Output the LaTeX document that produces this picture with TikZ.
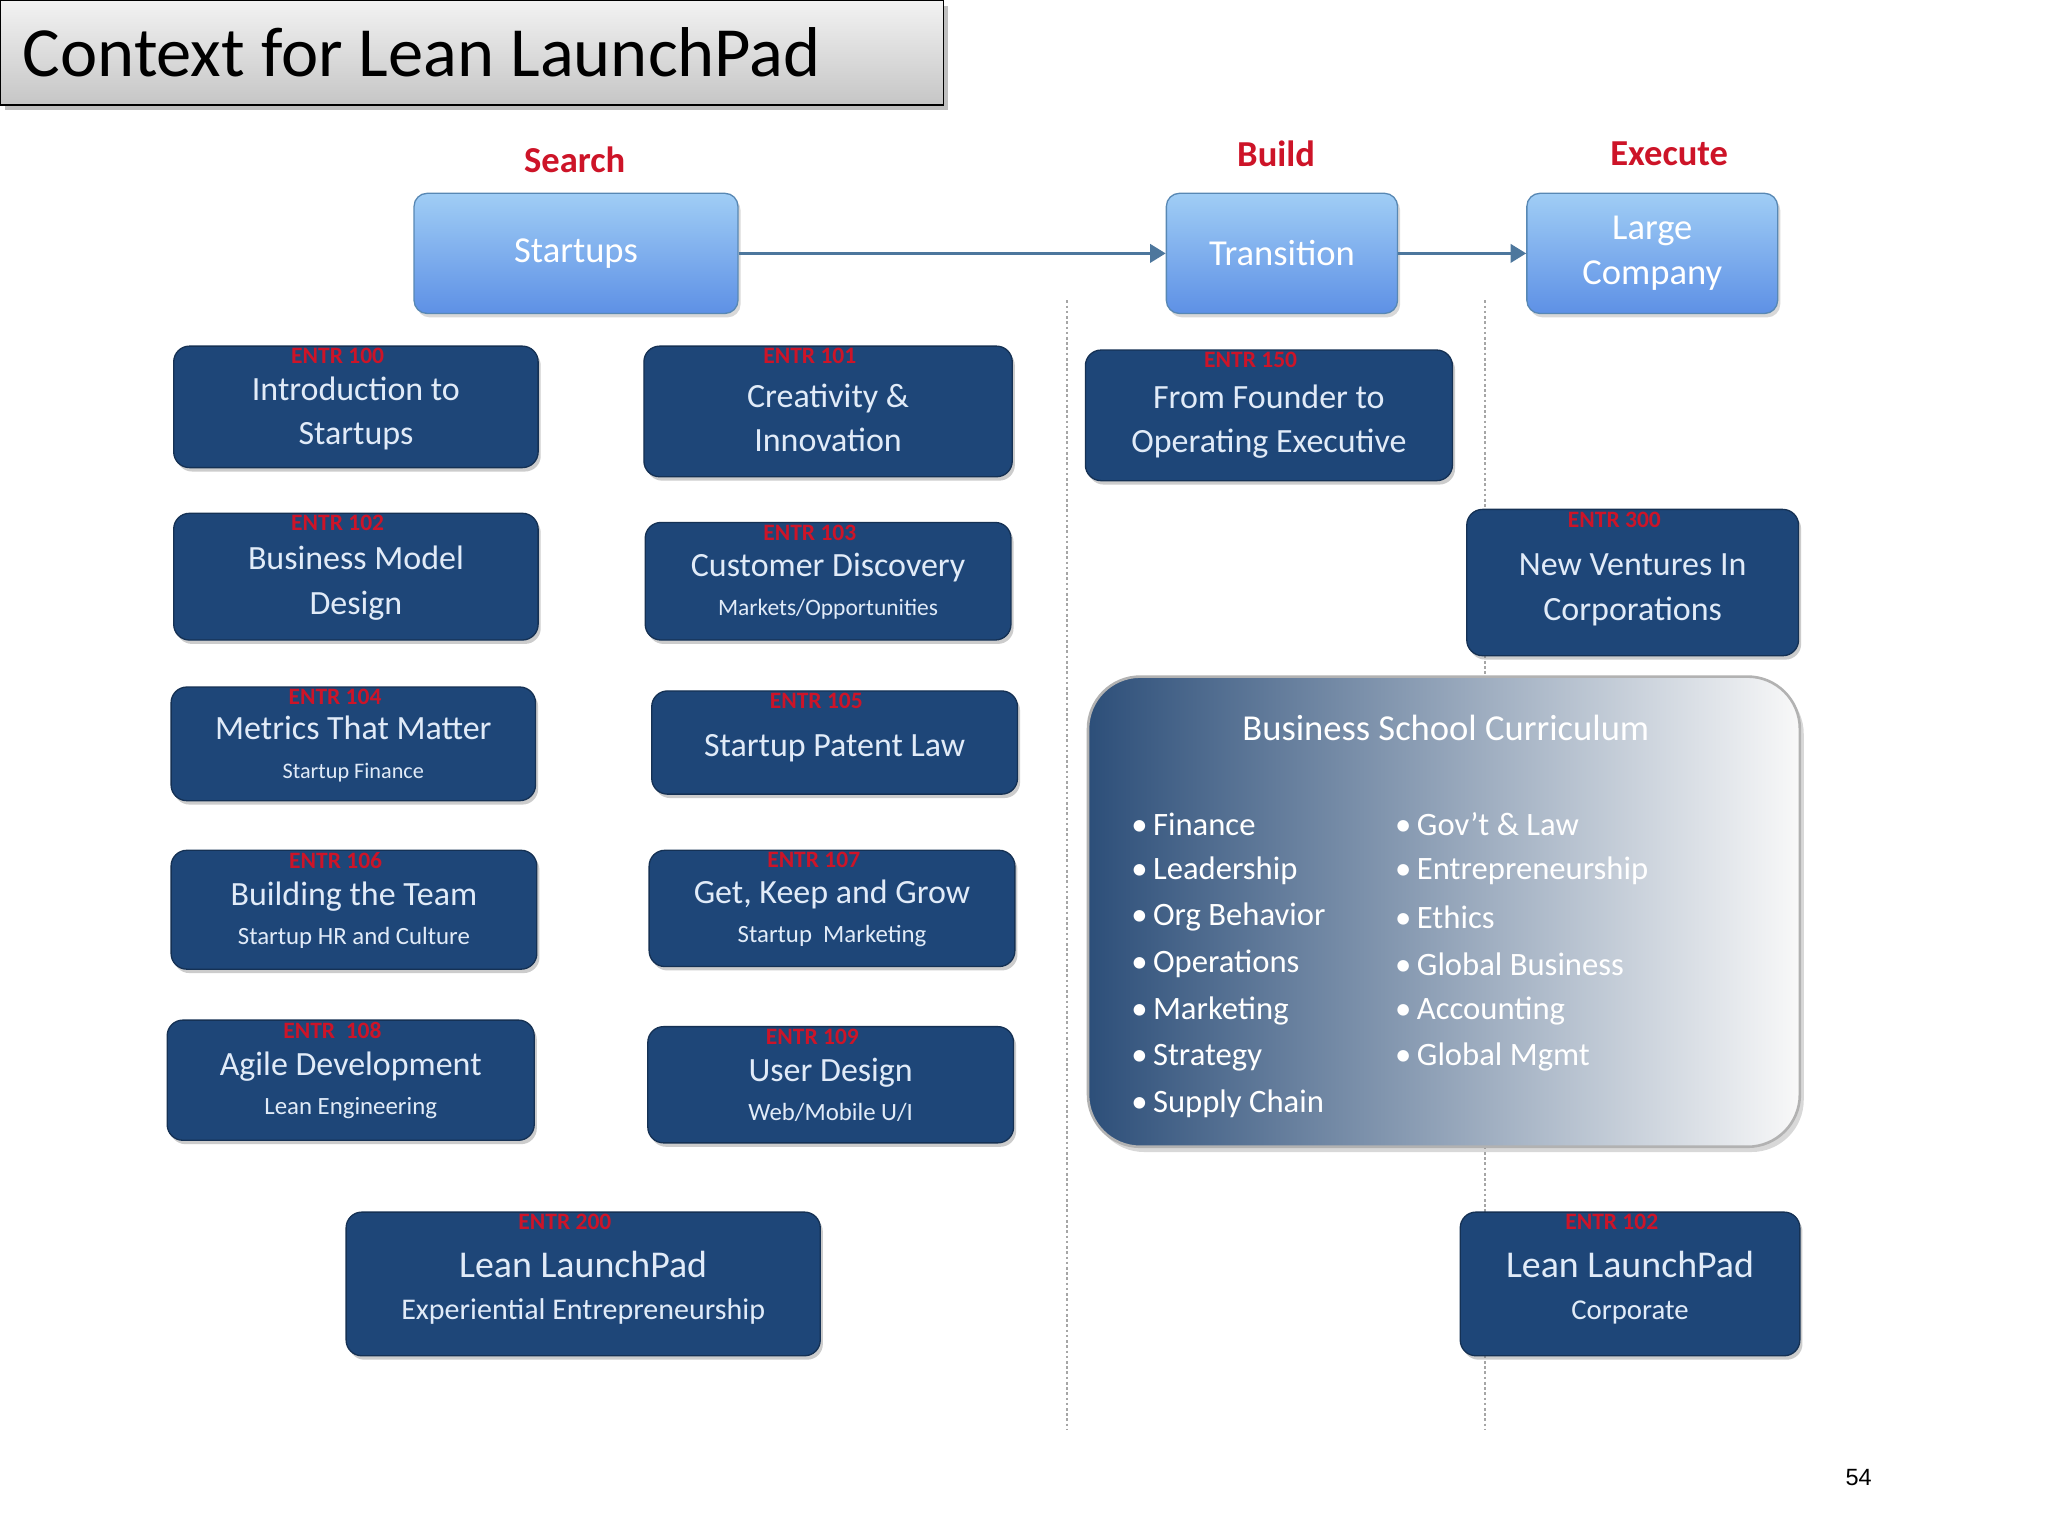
\documentclass[tikz,border=0pt]{standalone}
\usepackage{fontspec}
\setmainfont{Carlito}
\newfontfamily\pagefont{Liberation Sans}
\usetikzlibrary{shadows,arrows.meta}
\definecolor{dblue}{RGB}{30,70,120}
\definecolor{lblue}{RGB}{110,170,225}
\definecolor{lblueT}{RGB}{160,205,245}
\definecolor{txtw}{RGB}{225,235,248}
\definecolor{codered}{RGB}{205,20,40}
\begin{document}
\begin{tikzpicture}[x=1pt,y=-1pt,
 dbox/.style={draw=dblue!70!black,line width=1pt,fill=dblue,rounded corners=12pt,text=txtw,align=center,drop shadow={shadow xshift=2pt,shadow yshift=-3pt,opacity=.4},font=\fontsize{26}{34}\selectfont},
 lbox/.style={draw=lblue!80!black,line width=1pt,top color=lblueT,bottom color=lblue!85!blue,rounded corners=10pt,text=white,align=center,drop shadow={shadow xshift=2pt,shadow yshift=-3pt,opacity=.3},font=\fontsize{28}{38}\selectfont},
 code/.style={text=codered,font=\fontsize{18}{18}\selectfont\bfseries,anchor=north,inner sep=0pt},
 phase/.style={text=codered,font=\fontsize{28}{30}\selectfont\bfseries},
 vdash/.style={draw=gray!70,dash pattern=on 2pt off 2pt,line width=1.5pt},
 arr/.style={draw=lblue!70!black,line width=2.5pt,-{Triangle[length=12pt,width=14pt]}},
 bul/.style={anchor=west,text=white,font=\fontsize{25}{30}\selectfont,inner sep=0pt}]
\useasboundingbox (0,0) rectangle (1568,1176);
\fill[white] (0,0) rectangle (1568,1176);
% title
\node[draw=black,line width=1pt,top color=gray!10,bottom color=gray!45,minimum width=722,minimum height=80,anchor=north west,drop shadow={shadow xshift=3pt,shadow yshift=-4pt,opacity=.5}] (title) at (0,0) {};
\node[anchor=west,font=\fontsize{54}{58}\selectfont] (titlet) at (14,40) {Context for Lean LaunchPad};
% dashed lines
\coordinate (d1t) at (817,230); \coordinate (d1b) at (817,1095);
\coordinate (d2t) at (1137,230); \coordinate (d2b) at (1137,1095);
\draw[vdash] (d1t) -- (d1b);
\draw[vdash] (d2t) -- (d2b);
% phases
\node[phase] (search) at (440,122) {Search};
\node[phase] (build) at (977,118) {Build};
\node[phase] (execute) at (1278,118) {Execute};
\node[lbox,minimum width=248,minimum height=92] (startups) at (441,194) {Startups};
\node[lbox,minimum width=177,minimum height=92] (transition) at (981.5,194) {Transition};
\node[lbox,minimum width=192,minimum height=92] (large) at (1265,194) {Large\\[-4pt]Company};
\draw[arr] (startups) -- (transition);
\draw[arr] (transition) -- (large);
% left column
\node[dbox,minimum width=279,minimum height=93] (b1) at (272.5,311.5) {\\[-6pt]Introduction to\\Startups};
\node[dbox,minimum width=279,minimum height=97] (b2) at (272.5,441.5) {\\[-6pt]Business Model\\Design};
\node[dbox,minimum width=279,minimum height=87] (b3) at (270.5,569.5) {\\[-8pt]Metrics That Matter\\[-4pt]{\fontsize{17}{20}\selectfont Startup Finance}};
\node[dbox,minimum width=280,minimum height=91] (b4) at (271,696.5) {\\[-8pt]Building the Team\\[-4pt]{\fontsize{19}{22}\selectfont Startup HR and Culture}};
\node[dbox,minimum width=281,minimum height=92] (b5) at (268.5,827) {\\[-8pt]Agile Development\\[-4pt]{\fontsize{19}{22}\selectfont Lean Engineering}};
% right column
\node[dbox,minimum width=282,minimum height=100] (c1) at (634,315) {\\[-6pt]Creativity \&\\Innovation};
\node[dbox,minimum width=280,minimum height=90] (c2) at (634,445) {\\[-8pt]Customer Discovery\\[-4pt]{\fontsize{18}{22}\selectfont Markets/Opportunities}};
\node[dbox,minimum width=280,minimum height=79] (c3) at (639,568.5) {\\[-8pt]Startup Patent Law};
\node[dbox,minimum width=280,minimum height=89] (c4) at (637,695.5) {\\[-8pt]Get, Keep and Grow\\[-4pt]{\fontsize{19}{22}\selectfont Startup\ \ Marketing}};
\node[dbox,minimum width=280,minimum height=89] (c5) at (636,830.5) {\\[-8pt]User Design\\[-4pt]{\fontsize{19}{22}\selectfont Web/Mobile U/I}};
\node[dbox,minimum width=363,minimum height=110] (llp) at (446.5,983) {\\[-8pt]{\fontsize{29}{36}\selectfont Lean LaunchPad}\\[-2pt]{\fontsize{23}{26}\selectfont Experiential Entrepreneurship}};
% build / execute
\node[dbox,minimum width=281,minimum height=100] (ff) at (971.5,318) {\\[-6pt]From Founder to\\Operating Executive};
\node[dbox,minimum width=254,minimum height=112] (nv) at (1250,446) {\\[-6pt]New Ventures In\\Corporations};
\node[dbox,minimum width=260,minimum height=110] (llc) at (1248,983) {\\[-8pt]{\fontsize{29}{36}\selectfont Lean LaunchPad}\\[-2pt]{\fontsize{22}{26}\selectfont Corporate}};
% codes
\foreach \n/\c in {b1/ENTR 100,b2/ENTR 102,b3/ENTR 104,b4/ENTR 106,b5/ENTR\ \ 108,c1/ENTR 101,c2/ENTR 103,c3/ENTR 105,c4/ENTR 107,c5/ENTR 109,llp/ENTR 200,ff/ENTR 150,nv/ENTR 300,llc/ENTR 102}
  \node[code] (code-\n) at ([xshift=-14pt,yshift=-2pt]\n.north) {\c};
% business school
\node[draw=gray!60,line width=2pt,left color=dblue!85!gray,right color=gray!5,rounded corners=40pt,minimum width=545,minimum height=360,drop shadow={shadow xshift=3pt,shadow yshift=-4pt,opacity=.3}] (bsc) at (1105.5,698) {};
\node[text=white,font=\fontsize{28}{32}\selectfont] (bsct) at (1107,557) {Business School Curriculum};
\foreach \t [count=\i] in {Finance,Leadership,Org Behavior,Operations,Marketing,Strategy,Supply Chain}
  \node[bul] (bl\i) at (866,631+35.7*\i-35.7) {\textbullet\,\t};
\foreach \t [count=\i] in {Gov't \& Law,Entrepreneurship,Ethics,Global Business,Accounting,Global Mgmt}
  \node[bul] (br\i) at (1068,631+35.7*\i-35.7) {\textbullet\,\t};
\node[font=\pagefont\fontsize{18}{20}\selectfont] (pg) at (1423,1131) {54};
\end{tikzpicture}
\end{document}
